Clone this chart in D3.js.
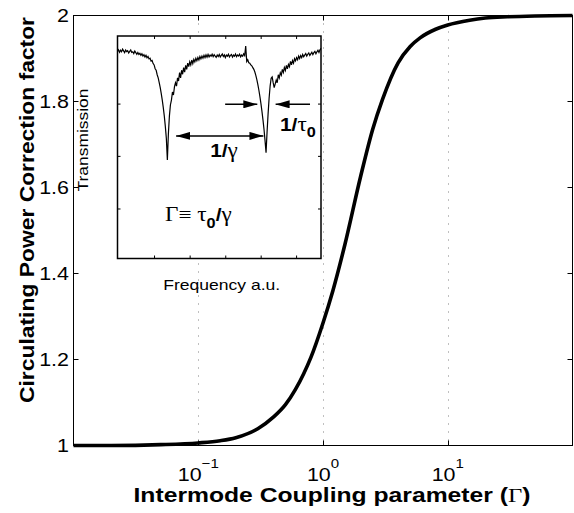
<!DOCTYPE html>
<html><head><meta charset="utf-8">
<script src="https://cdn.jsdelivr.net/npm/d3@7"></script>
<style>body{margin:0;background:#fff}svg{display:block}</style>
</head><body>
<svg id="c" width="574" height="513"></svg>
<script>
// Main curve: circulating power correction factor vs intermode coupling Γ
const gammaVals = [0.01, 0.02, 0.05, 0.1, 0.15, 0.2, 0.3, 0.4, 0.5, 0.6, 0.7, 0.8, 1.0, 1.2, 1.5, 2.0, 2.5, 3.0, 4.0, 5.0, 6.0, 8.0, 10, 15, 20, 30, 50, 100];
const powerVals = [1.000, 1.000, 1.002, 1.006, 1.011, 1.018, 1.039, 1.066, 1.095, 1.130, 1.167, 1.205, 1.285, 1.360, 1.468, 1.625, 1.735, 1.805, 1.890, 1.928, 1.948, 1.968, 1.978, 1.989, 1.994, 1.997, 1.999, 2.000];
const xTickVals = [0.1, 1, 10];
const xTickExp = ["\u22121", "0", "1"];
const yTickVals = [1, 1.2, 1.4, 1.6, 1.8, 2];
const yTickLabels = ["1", "1.2", "1.4", "1.6", "1.8", "2"];

// Inset: transmission spectrum, sampled every 0.5 frequency units (a.u.)
const inFreq = d3.range(0, 100.01, 0.5);
const inTrans = [
 .930,.938,.927,.936,.929,.941,.933,.925,.937,.930,
 .934,.924,.931,.937,.926,.929,.921,.932,.925,.918,
 .926,.917,.922,.913,.920,.910,.916,.906,.913,.902,
 .908,.897,.900,.887,.890,.876,.870,.853,.846,.826,
 .812,.790,.768,.741,.712,.678,.640,.594,.540,.443,
 .560,.640,.690,.712,.748,.735,.772,.790,.775,.812,
 .798,.836,.812,.846,.828,.858,.838,.868,.850,.878,
 .862,.884,.870,.892,.876,.895,.884,.900,.889,.903,
 .892,.908,.897,.910,.900,.913,.903,.915,.905,.917,
 .906,.914,.909,.918,.907,.916,.910,.904,.915,.908,
 .917,.906,.913,.919,.908,.915,.903,.914,.909,.918,
 .906,.913,.917,.905,.914,.909,.919,.907,.915,.910,
 .918,.906,.914,.909,.920,.912,.955,.885,.893,.880,
 .878,.870,.866,.858,.850,.838,.822,.803,.780,.755,
 .726,.695,.660,.622,.580,.530,.475,.570,.650,.720,
 .775,.810,.816,.790,.768,.785,.802,.790,.826,.812,
 .835,.824,.850,.836,.858,.845,.868,.852,.872,.862,
 .886,.870,.890,.878,.898,.888,.903,.893,.910,.899,
 .912,.903,.917,.907,.914,.921,.910,.918,.924,.913,
 .920,.927,.916,.925,.931,.920,.929,.936,.926,.938,
 .944];
const inXTicks = [18.2, 35.7, 53.2, 70.6, 88.0];
const inYTicks = [0.2225, 0.459, 0.694];
// annotation arrows in inset units [f1, T1, f2, T2]
const dblArrow = [28.8, 0.551, 71.7, 0.551];
const rightArrow = [52.9, 0.693, 68.7, 0.693];
const leftArrow = [94.6, 0.693, 77.7, 0.693];

const svg = d3.select("#c");
svg.append("rect").attr("width",574).attr("height",513).attr("fill","#fff");

const SX = 1.16; // horizontal glyph stretch
const x = d3.scaleLog().domain([0.01, 100]).range([73.5, 572.5]);
const y = d3.scaleLinear().domain([1, 2]).range([445.5, 15.5]);

// grid (dotted)
svg.append("g").selectAll("line").data(xTickVals).join("line")
  .attr("x1", d => Math.round(x(d)) + 0.5).attr("x2", d => Math.round(x(d)) + 0.5)
  .attr("y1", y(2)).attr("y2", y(1))
  .attr("stroke", "#808080").attr("stroke-width", 1).attr("stroke-dasharray", "1,7");

// ticks (inward on all sides)
const tk = svg.append("g").attr("stroke", "#000").attr("stroke-width", 1);
xTickVals.forEach(d => {
  const px = Math.round(x(d)) + 0.5;
  tk.append("line").attr("x1", px).attr("x2", px).attr("y1", y(1)).attr("y2", y(1) - 5);
  tk.append("line").attr("x1", px).attr("x2", px).attr("y1", y(2)).attr("y2", y(2) + 5);
});
yTickVals.forEach(d => {
  tk.append("line").attr("x1", x(0.01)).attr("x2", x(0.01) + 5).attr("y1", y(d)).attr("y2", y(d));
  tk.append("line").attr("x1", x(100)).attr("x2", x(100) - 5).attr("y1", y(d)).attr("y2", y(d));
});

// main curve
const pts = gammaVals.map((g, i) => [g, powerVals[i]]);
svg.append("path").datum(pts)
  .attr("d", d3.line().x(d => x(d[0])).y(d => y(d[1])).curve(d3.curveMonotoneX))
  .attr("fill", "none").attr("stroke", "#000").attr("stroke-width", 3.6).attr("stroke-linejoin", "round");

// box
svg.append("rect").attr("x", x(0.01)).attr("y", y(2)).attr("width", x(100) - x(0.01)).attr("height", y(1) - y(2))
  .attr("fill", "none").attr("stroke", "#000").attr("stroke-width", 1);

// tick labels
const font = "'Liberation Sans', Arial, Helvetica, sans-serif";
yTickVals.forEach((d, i) => {
  svg.append("text").attr("transform", `translate(69,${y(d) + 6.6}) scale(${SX},1)`)
    .attr("text-anchor", "end").attr("font-family", font).attr("font-size", 18.5).text(yTickLabels[i]);
});
xTickVals.forEach((d, i) => {
  const t = svg.append("text").attr("transform", `translate(${x(d)},481) scale(${SX},1)`)
    .attr("text-anchor", "middle").attr("font-family", font).attr("font-size", 18.5);
  t.append("tspan").text("10");
  t.append("tspan").attr("font-size", 13).attr("dy", -13).text(xTickExp[i]);
});

// axis labels
const xl = svg.append("text").attr("x", 332).attr("y", 502).attr("text-anchor", "middle")
  .attr("font-family", font).attr("font-weight", "bold").attr("font-size", 19.5)
  .attr("textLength", 397).attr("lengthAdjust", "spacingAndGlyphs");
xl.append("tspan").text("Intermode Coupling parameter (");
xl.append("tspan").attr("font-family", "'Liberation Serif', serif").attr("font-weight", "normal").text("\u0393");
xl.append("tspan").text(")");

svg.append("text").attr("transform", "translate(33.5,210) rotate(-90)").attr("text-anchor", "middle")
  .attr("font-family", font).attr("font-weight", "bold").attr("font-size", 20.5)
  .attr("textLength", 386).attr("lengthAdjust", "spacingAndGlyphs")
  .text("Circulating Power Correction factor");

// ---------- Inset ----------
const ix = d3.scaleLinear().domain([0, 100]).range([117.5, 321]);
const iy = d3.scaleLinear().domain([0, 1]).range([258.5, 36]);
const ins = svg.append("g");
ins.append("rect").attr("x", ix(0)).attr("y", iy(1)).attr("width", ix(100) - ix(0)).attr("height", iy(0) - iy(1))
  .attr("fill", "#fff");
const itk = ins.append("g").attr("stroke", "#000").attr("stroke-width", 1);
inXTicks.forEach(d => {
  itk.append("line").attr("x1", ix(d)).attr("x2", ix(d)).attr("y1", iy(0)).attr("y2", iy(0) - 3);
  itk.append("line").attr("x1", ix(d)).attr("x2", ix(d)).attr("y1", iy(1)).attr("y2", iy(1) + 3);
});
inYTicks.forEach(d => {
  itk.append("line").attr("x1", ix(0)).attr("x2", ix(0) + 3).attr("y1", iy(d)).attr("y2", iy(d));
  itk.append("line").attr("x1", ix(100)).attr("x2", ix(100) - 3).attr("y1", iy(d)).attr("y2", iy(d));
});
const ipts = inFreq.map((f, i) => [f, inTrans[i]]);
ins.append("path").datum(ipts)
  .attr("d", d3.line().x(d => ix(d[0])).y(d => iy(d[1])))
  .attr("fill", "none").attr("stroke", "#000").attr("stroke-width", 1.2);
ins.append("rect").attr("x", ix(0)).attr("y", iy(1)).attr("width", ix(100) - ix(0)).attr("height", iy(0) - iy(1))
  .attr("fill", "none").attr("stroke", "#000").attr("stroke-width", 1.5);

// arrow markers
const defs = svg.append("defs");
defs.append("marker").attr("id", "ah").attr("viewBox", "0 0 14 8").attr("refX", 14).attr("refY", 4)
  .attr("markerWidth", 14).attr("markerHeight", 8).attr("markerUnits", "userSpaceOnUse").attr("orient", "auto-start-reverse")
  .append("path").attr("d", "M0,0 L14,4 L0,8 Z").attr("fill", "#000");
function arrow(a, both) {
  const l = ins.append("line").attr("x1", ix(a[0])).attr("y1", iy(a[1])).attr("x2", ix(a[2])).attr("y2", iy(a[3]))
    .attr("stroke", "#000").attr("stroke-width", 1.5).attr("marker-end", "url(#ah)");
  if (both) l.attr("marker-start", "url(#ah)");
}
arrow(dblArrow, true);
arrow(rightArrow, false);
arrow(leftArrow, false);

const serif = "'Liberation Serif', 'Times New Roman', serif";
// 1/γ
const t1 = ins.append("text").attr("transform", `translate(224,157) scale(${SX},1)`).attr("text-anchor", "middle")
  .attr("font-family", font).attr("font-size", 18).attr("font-weight", "bold");
t1.append("tspan").text("1/");
t1.append("tspan").attr("font-family", serif).attr("font-weight", "normal").attr("font-size", 20).text("\u03b3");
// 1/τ0
const t2 = ins.append("text").attr("transform", `translate(280,131) scale(${SX},1)`)
  .attr("font-family", font).attr("font-size", 18).attr("font-weight", "bold");
t2.append("tspan").text("1/");
t2.append("tspan").attr("font-family", serif).attr("font-weight", "normal").attr("font-size", 20).text("\u03c4");
t2.append("tspan").attr("font-size", 14).attr("dy", 6).text("0");
// Γ≡ τ0/γ
const t3 = ins.append("text").attr("transform", `translate(165,221) scale(${SX},1)`)
  .attr("font-family", serif).attr("font-size", 20);
t3.append("tspan").text("\u0393\u2261 \u03c4");
t3.append("tspan").attr("font-family", font).attr("font-weight", "bold").attr("font-size", 14).attr("dy", 7).text("0");
t3.append("tspan").attr("font-family", font).attr("font-weight", "bold").attr("font-size", 18).attr("dy", -7).text("/");
t3.append("tspan").text("\u03b3");

// inset axis labels
ins.append("text").attr("x", 221.7).attr("y", 290).attr("text-anchor", "middle")
  .attr("font-family", font).attr("font-size", 15).attr("textLength", 117).attr("lengthAdjust", "spacingAndGlyphs")
  .text("Frequency a.u.");
ins.append("text").attr("transform", "translate(87.5,140) rotate(-90)").attr("text-anchor", "middle")
  .attr("font-family", font).attr("font-size", 14).attr("textLength", 103).attr("lengthAdjust", "spacingAndGlyphs")
  .text("Transmission");
</script>
</body></html>
